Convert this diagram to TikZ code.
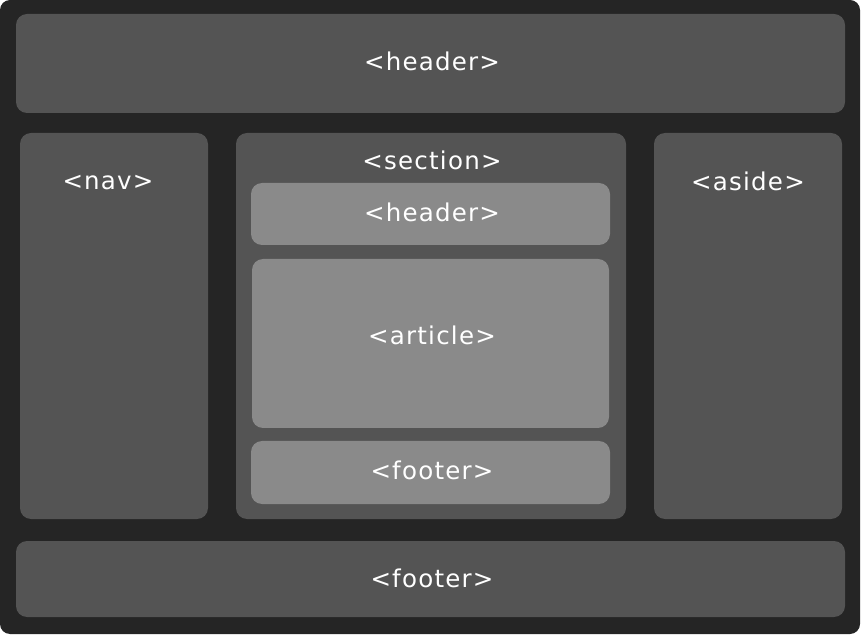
\documentclass[tikz,border=0pt]{standalone}
\usepackage{fontspec}
\setmainfont{DejaVu Sans}[LetterSpace=5]
\begin{document}
\begin{tikzpicture}[x=1pt,y=-1pt,
  frame/.style={fill=black!85.5, rounded corners=10pt},
  outerbox/.style={fill=black!67, rounded corners=11pt},
  innerbox/.style={fill=black!46, rounded corners=11pt},
  lbl/.style={text=white, font=\fontsize{24.5}{28}\selectfont, inner sep=0pt, anchor=base}]
\useasboundingbox (0,0) rectangle (863,636);
\fill[white] (0,0) rectangle (863,636);
\fill[frame] (0,0) rectangle (860,634);
% outer boxes
\fill[outerbox] (16,14) rectangle (845,113);
\fill[outerbox] (20,133) rectangle (208,519);
\fill[outerbox] (236,133) rectangle (626,519);
\fill[outerbox] (654,133) rectangle (842,519);
\fill[outerbox] (16,541) rectangle (845,617);
% inner boxes
\fill[innerbox] (251,183) rectangle (610,245);
\fill[innerbox] (252,259) rectangle (609,428);
\fill[innerbox] (251,441) rectangle (610,504);
% labels
\node[lbl] (header) at (432,71) {<header>};
\node[lbl] (nav) at (108,190) {<nav>};
\node[lbl] (section) at (432,170) {<section>};
\node[lbl] (aside) at (748,191) {<aside>};
\node[lbl] (iheader) at (432,222) {<header>};
\node[lbl] (article) at (432,345) {<article>};
\node[lbl] (ifooter) at (432,479) {<footer>};
\node[lbl] (footer) at (432,587) {<footer>};
\end{tikzpicture}
\end{document}
